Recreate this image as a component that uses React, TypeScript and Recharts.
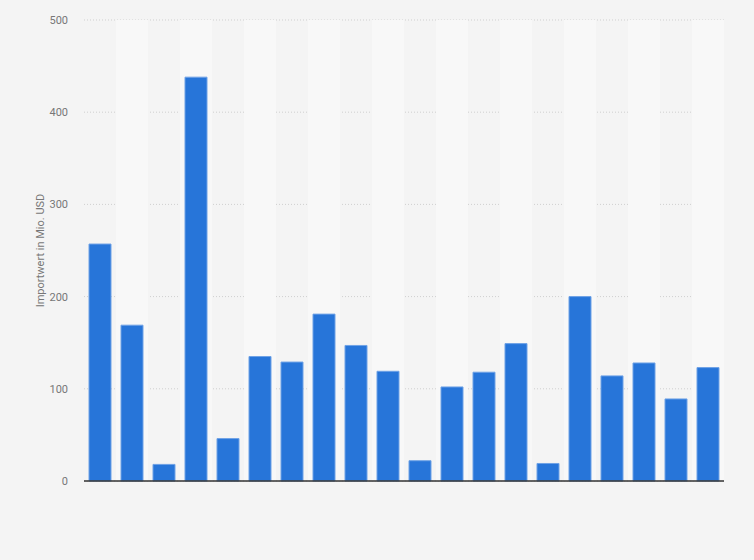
import { Bar, BarChart, CartesianGrid, ReferenceArea, XAxis, YAxis } from "recharts"

// 20 unlabeled categories (no x tick labels in the reference)
const categories = [
  "c1", "c2", "c3", "c4", "c5", "c6", "c7", "c8", "c9", "c10",
  "c11", "c12", "c13", "c14", "c15", "c16", "c17", "c18", "c19", "c20",
]

const importValues = [
  257, 169, 18, 438, 46, 135, 129, 181, 147, 119,
  22, 102, 118, 149, 19, 200, 114, 128, 89, 123,
]

const yTicks = [0, 100, 200, 300, 400, 500]

const data = categories.map((name, i) => ({ name, value: importValues[i] }))

export default function App() {
  return (
    <div style={{ position: "fixed", top: 0, left: 0, width: 754, height: 560, background: "#f4f4f4" }}>
      <BarChart
        width={754}
        height={560}
        data={data}
        margin={{ top: 20, right: 30, bottom: 49, left: 24 }}
        barSize={22}
      >
        {categories.map((c, i) =>
          i % 2 === 1 ? (
            <ReferenceArea key={c} x1={c} x2={c} fill="#f8f8f8" fillOpacity={1} stroke="none" ifOverflow="visible" />
          ) : null
        )}
        <CartesianGrid vertical={false} stroke="#cfcfcf" strokeDasharray="1 2" />
        <XAxis
          dataKey="name"
          tick={false}
          tickLine={false}
          axisLine={{ stroke: "#333333", strokeWidth: 1.5 }}
          height={30}
        />
        <YAxis
          domain={[0, 500]}
          ticks={yTicks}
          width={60}
          axisLine={false}
          tickLine={false}
          tick={{ fill: "#777777", fontSize: 11, fontFamily: "Roboto, Arial, sans-serif" }}
          tickMargin={10}
          label={{
            value: "Importwert in Mio. USD",
            angle: -90,
            position: "insideLeft",
            dx: 11,
            dy: 0,
            style: { textAnchor: "middle", fill: "#777777", fontSize: 11, fontFamily: "Roboto, Arial, sans-serif" },
          }}
        />
        <Bar dataKey="value" fill="#2775d9" stroke="#6fa2e6" strokeWidth={1} isAnimationActive={false} />
      </BarChart>
    </div>
  )
}
